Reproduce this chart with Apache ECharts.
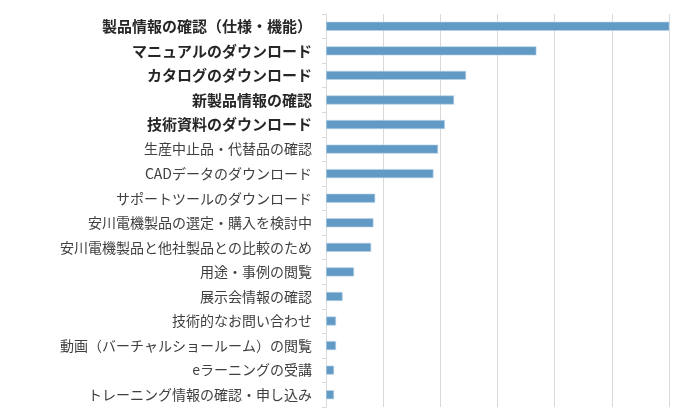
<!DOCTYPE html>
<html>
<head>
<meta charset="utf-8">
<script src="https://cdn.jsdelivr.net/npm/echarts@6/dist/echarts.min.js"></script>
<style>html,body{margin:0;padding:0;background:#fff}#c{width:700px;height:420px}</style>
</head>
<body>
<div id="c"></div>
<script>
const categories = [
  '製品情報の確認（仕様・機能）',
  'マニュアルのダウンロード',
  'カタログのダウンロード',
  '新製品情報の確認',
  '技術資料のダウンロード',
  '生産中止品・代替品の確認',
  'CADデータのダウンロード',
  'サポートツールのダウンロード',
  '安川電機製品の選定・購入を検討中',
  '安川電機製品と他社製品との比較のため',
  '用途・事例の閲覧',
  '展示会情報の確認',
  '技術的なお問い合わせ',
  '動画（バーチャルショールーム）の閲覧',
  'eラーニングの受講',
  'トレーニング情報の確認・申し込み'
];
const values = [60.1, 36.8, 24.5, 22.4, 20.8, 19.6, 18.8, 8.6, 8.3, 7.9, 4.9, 2.9, 1.75, 1.75, 1.4, 1.4];
const boldCount = 5;

const chart = echarts.init(document.getElementById('c'));
chart.setOption({
  animation: false,
  grid: { left: 326, right: 31, top: 14, bottom: 13, containLabel: false },
  xAxis: {
    type: 'value', min: 0, max: 60, interval: 10,
    axisLabel: { show: false },
    axisLine: { show: false },
    axisTick: { show: false },
    splitLine: { show: true, lineStyle: { color: '#d9d9d9', width: 1 } }
  },
  yAxis: {
    type: 'category', data: categories, inverse: true,
    axisLine: { show: true, lineStyle: { color: '#d9d9d9', width: 1 } },
    axisTick: { show: true, length: 4, lineStyle: { color: '#d9d9d9' } },
    axisLabel: {
      margin: 14,
      fontFamily: 'Noto Sans CJK JP',
      fontSize: 14,
      color: '#404040',
      formatter: function (v, i) { return i < boldCount ? '{b|' + v + '}' : v; },
      rich: { b: { fontWeight: 'bold', fontSize: 15, color: '#262626', fontFamily: 'Noto Sans CJK JP' } }
    }
  },
  series: [{
    type: 'bar', data: values, barWidth: 9,
    itemStyle: { color: '#629ac6', borderColor: '#b9d1e6', borderWidth: 0.6 }
  }]
});
</script>
</body>
</html>
